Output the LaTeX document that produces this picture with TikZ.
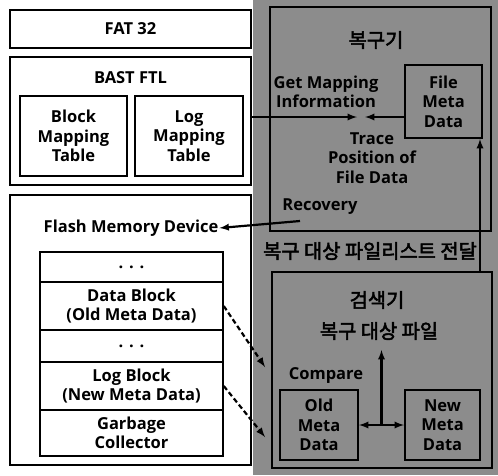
\documentclass[tikz,border=0pt]{standalone}
\usepackage{fontspec}
\setmainfont{Open Sans}
\newfontfamily\kr[AutoFakeBold=2.5, Scale=1.2]{Noto Sans CJK KR}
\usepackage{tikz}
\usetikzlibrary{calc}
\usetikzlibrary{arrows}
\usetikzlibrary{positioning}

\tikzset{
  blk/.style={rectangle, draw=black, line width=1.5pt, align=center, inner sep=0pt},
  sub/.style={rectangle, draw=black, line width=2pt, align=center, inner sep=0pt},
  lbl/.style={align=center, inner sep=1pt},
  arr/.style={-latex, line width=2.2pt, draw=black},
  dasharr/.style={-latex, line width=2.2pt, dashed, dash pattern=on 5pt off 3pt, draw=black}
}

\begin{document}
\begin{tikzpicture}[x=1pt, y=-1pt, font=\bfseries\fontsize{16.5}{19.5}\selectfont]
 \useasboundingbox (0,0) rectangle (498,475);
 \fill [black!45] (253,0) rectangle (498,475);
 % left column
 \node [blk, minimum width=241pt, minimum height=38pt] (fat) at (130.5, 29) {FAT 32};
 \node [blk, minimum width=241pt, minimum height=128pt] (bast) at (130.5, 121) {};
 \node [lbl] (bastlbl) at (130.5, 78) {BAST FTL};
 \node [blk, minimum width=107pt, minimum height=80pt] (blockmap) at (73.5, 136) {Block\\Mapping\\Table};
 \node [blk, minimum width=108pt, minimum height=80pt] (logmap) at (189, 136) {Log\\Mapping\\Table};
 \node [blk, minimum width=241pt, minimum height=270pt] (flash) at (130.5, 330) {};
 \node [lbl] (flashlbl) at (131, 228) {Flash Memory Device};
 \node [blk, minimum width=183pt, minimum height=30pt] (dotsa) at (131.5, 267) {. . .};
 \node [blk, minimum width=183pt, minimum height=48pt] (datablk) at (131.5, 306) {Data Block\\(Old Meta Data)};
 \node [blk, minimum width=183pt, minimum height=32pt] (dotsb) at (131.5, 346) {. . .};
 \node [blk, minimum width=183pt, minimum height=48pt] (logblk) at (131.5, 386) {Log Block\\(New Meta Data)};
 \node [blk, minimum width=183pt, minimum height=46pt] (gc) at (131.5, 433) {Garbage\\Collector};
 % right column
 \node [sub, minimum width=221pt, minimum height=224pt] (recov) at (380.5, 119) {};
 \node [lbl] (recovlbl) at (376, 40) {\kr 복구기};
 \node [lbl] (getmap) at (326, 92) {Get Mapping\\Information};
 \node [sub, minimum width=77pt, minimum height=73pt] (filemeta) at (443.5, 101.5) {File\\Meta\\Data};
 \node [lbl] (tracelbl) at (372, 158) {Trace\\Position of\\File Data};
 \node [lbl] (reclbl) at (320, 207) {Recovery};
 \node [lbl] (listlbl) at (370, 251) {\kr 복구 대상 파일리스트 전달};
 \node [sub, minimum width=220pt, minimum height=196pt] (search) at (382, 370) {};
 \node [lbl] (searchlbl) at (377, 300) {\kr 검색기};
 \node [lbl] (targetlbl) at (379, 331) {\kr 복구 대상 파일};
 \node [lbl] (cmplbl) at (326, 375) {Compare};
 \node [sub, minimum width=78pt, minimum height=70pt] (oldmeta) at (319, 425) {Old\\Meta\\Data};
 \node [sub, minimum width=75pt, minimum height=70pt] (newmeta) at (442.5, 425) {New\\Meta\\Data};
 % connectors
 \coordinate (trace) at (361, 117);
 \coordinate (rec) at (300, 221);
 \coordinate (cmp) at ($(oldmeta.east)!0.5!(newmeta.west)$);
 \coordinate (cmptop) at (381, 350);
 \coordinate (olddst) at (265, 367);
 \coordinate (newdst) at (265, 437);
 \draw [arr] (bast.east |- trace) to ([xshift=-4pt]trace);
 \draw [arr] (filemeta.west |- trace) to ([xshift=4pt]trace);
 \draw [arr] (rec) to (flashlbl.east);
 \draw [arr] ([xshift=-3pt]search.north -| filemeta.east) to ([xshift=-3pt]filemeta.south east);
 \draw [arr, latex-latex] (oldmeta.east) to (newmeta.west);
 \draw [arr] (cmp) to (cmp |- cmptop);
 \draw [dasharr] (datablk.east) to (olddst);
 \draw [dasharr] (logblk.east) to (newdst);
\end{tikzpicture}
\end{document}
